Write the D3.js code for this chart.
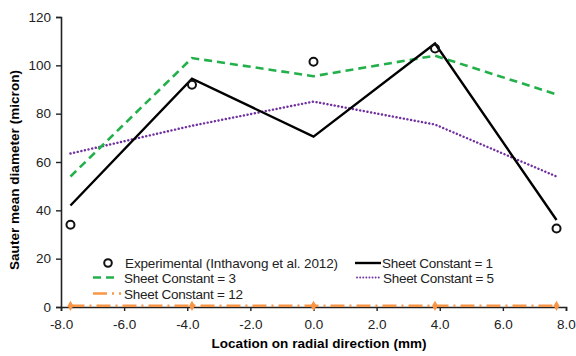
<!DOCTYPE html>
<html>
<head>
<meta charset="utf-8">
<script src="https://cdn.jsdelivr.net/npm/d3@7"></script>
<style>
  body { margin: 0; background: #fff; }
  svg { display: block; font-family: "Liberation Sans", Arial, sans-serif; }
</style>
</head>
<body>
<script>
// radial locations (mm)
var locations = [-7.7, -3.85, 0, 3.85, 7.7];

var experimental = [34, 92, 101.5, 107, 32.5];
var sheet1 = [42, 94.5, 70.5, 109, 36];
var sheet3 = [54, 103, 95.5, 104, 88];
var sheet5 = [63.5, 75, 85, 75.5, 54];
var sheet12 = [0.5, 0.5, 0.5, 0.5, 0.5];

var xTicks = [-8, -6, -4, -2, 0, 2, 4, 6, 8];
var yTicks = [0, 20, 40, 60, 80, 100, 120];

var width = 576, height = 356;
var plotLeft = 61, plotRight = 566, plotTop = 17, plotBottom = 307;

var svg = d3.select("body").append("svg")
    .attr("width", width)
    .attr("height", height);

var x = d3.scaleLinear().domain([-8, 8]).range([plotLeft, plotRight]);
var y = d3.scaleLinear().domain([0, 120]).range([plotBottom, plotTop]);

// axes
var xAxis = svg.append("g")
    .attr("transform", "translate(0," + plotBottom + ")")
    .call(d3.axisBottom(x).tickValues(xTicks).tickSize(4).tickPadding(8)
        .tickFormat(function (d) { return d.toFixed(1); }));
var yAxis = svg.append("g")
    .attr("transform", "translate(" + plotLeft + ",0)")
    .call(d3.axisLeft(y).tickValues(yTicks).tickSize(5).tickPadding(5)
        .tickFormat(function (d) { return String(d); }));

[xAxis, yAxis].forEach(function (g) {
    g.select(".domain").attr("stroke", "#222").attr("stroke-width", 1.6);
    g.selectAll(".tick line").attr("stroke", "#222").attr("stroke-width", 1.4);
    g.selectAll(".tick text")
        .attr("fill", "#222")
        .style("font-size", "13.5px")
        .style("font-family", "Liberation Sans, Arial, sans-serif");
});

// axis titles
svg.append("text")
    .attr("x", 319).attr("y", 348)
    .attr("text-anchor", "middle")
    .attr("textLength", 215)
    .style("font-size", "13.5px").style("font-weight", "bold")
    .text("Location on radial direction (mm)");

svg.append("text")
    .attr("transform", "translate(19,170) rotate(-90)")
    .attr("text-anchor", "middle")
    .attr("textLength", 200)
    .style("font-size", "13.5px").style("font-weight", "bold")
    .text("Sauter mean diameter (micron)");

var line = d3.line()
    .x(function (d, i) { return x(locations[i]); })
    .y(function (d) { return y(d); });

var series = [
    { name: "Sheet Constant = 12", data: sheet12, color: "#f79646", dash: "14,5,2,5", width: 2.6, cap: "butt" },
    { name: "Sheet Constant = 5", data: sheet5, color: "#7030a0", dash: "0.1,3.6", width: 2.4, cap: "round" },
    { name: "Sheet Constant = 3", data: sheet3, color: "#23b04b", dash: "8,5", width: 2.6, cap: "butt" },
    { name: "Sheet Constant = 1", data: sheet1, color: "#000", dash: null, width: 2.4, cap: "butt" }
];

series.forEach(function (s) {
    svg.append("path")
        .datum(s.data)
        .attr("d", line)
        .attr("fill", "none")
        .attr("stroke", s.color)
        .attr("stroke-width", s.width)
        .attr("stroke-linecap", s.cap)
        .attr("stroke-dasharray", s.dash);
});

// small markers on sheet constant 12
svg.selectAll(".m12")
    .data(sheet12)
    .enter().append("path")
    .attr("d", d3.symbol().type(d3.symbolDiamond).size(30))
    .attr("transform", function (d, i) { return "translate(" + x(locations[i]) + "," + y(d) + ")"; })
    .attr("fill", "#f79646");

// experimental points
svg.selectAll(".exp")
    .data(experimental)
    .enter().append("circle")
    .attr("cx", function (d, i) { return x(locations[i]); })
    .attr("cy", function (d) { return y(d); })
    .attr("r", 4)
    .attr("fill", "none")
    .attr("stroke", "#111")
    .attr("stroke-width", 2);

// legend
var legend = svg.append("g").style("font-size", "13.5px").attr("fill", "#222");

legend.append("circle")
    .attr("cx", 108).attr("cy", 263).attr("r", 3.8)
    .attr("fill", "none").attr("stroke", "#111").attr("stroke-width", 2);
legend.append("text").attr("x", 125).attr("y", 268)
    .attr("textLength", 213)
    .text("Experimental (Inthavong et al. 2012)");

var legendItems = [
    { s: series[2], x1: 93, x2: 117, tx: 124, y: 277.5, len: 112 },
    { s: series[0], x1: 93, x2: 121, tx: 124, y: 293.5, len: 119 },
    { s: series[3], x1: 355, x2: 381, tx: 382, y: 263, len: 111 },
    { s: series[1], x1: 357, x2: 379, tx: 383, y: 277.5, len: 111 }
];

legendItems.forEach(function (it) {
    legend.append("line")
        .attr("x1", it.x1).attr("x2", it.x2)
        .attr("y1", it.y).attr("y2", it.y)
        .attr("stroke", it.s.color)
        .attr("stroke-width", it.s.name === "Sheet Constant = 5" ? 1.8 : it.s.width)
        .attr("stroke-linecap", it.s.cap)
        .attr("stroke-dasharray", it.s.name === "Sheet Constant = 5" ? "0.1,3" : it.s.dash);
    legend.append("text")
        .attr("x", it.tx).attr("y", it.y + 5)
        .attr("textLength", it.len)
        .text(it.s.name);
});
</script>
</body>
</html>
